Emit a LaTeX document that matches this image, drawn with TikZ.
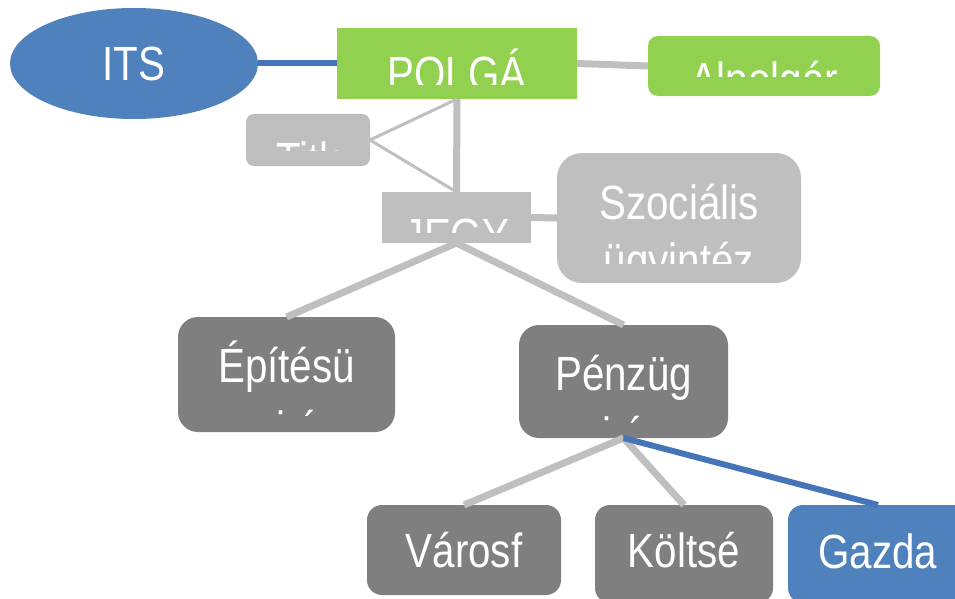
\documentclass[tikz,border=0pt]{standalone}
\usepackage{fontspec}
\setmainfont{Liberation Sans}[FakeStretch=0.84]
\usetikzlibrary{shapes.geometric}
\definecolor{itsblue}{HTML}{4F81BD}
\definecolor{lineblue}{HTML}{4674B9}
\definecolor{leafgreen}{HTML}{92D050}
\definecolor{lightbox}{HTML}{BFBFBF}
\definecolor{darkbox}{HTML}{7F7F7F}
\tikzset{
  box/.style 2 args={minimum width=#1pt, minimum height=#2pt, inner sep=0pt, outer sep=0pt},
  txt/.style={text=white, anchor=base, inner sep=0pt, font=\fontsize{48}{58}\selectfont},
  link/.style={draw=lightbox, line width=7pt},
  thinlink/.style={draw=lightbox, line width=3pt},
  bluelink/.style={draw=lineblue, line width=6pt}
}
\begin{document}
\begin{tikzpicture}[x=1pt,y=-1pt]
\useasboundingbox (0,0) rectangle (955,599);
% boxes
\node[ellipse, fill=itsblue, box={248}{111}, txt, anchor=center] (its) at (134,63.5) {ITS};
\node[fill=leafgreen, box={240}{71}] (polga) at (457,63.5) {};
\node[fill=leafgreen, box={232}{60}, rounded corners=10pt] (alpol) at (764,66) {};
\node[fill=lightbox, box={124}{52}, rounded corners=8pt] (titk) at (308,140) {};
\node[fill=lightbox, box={149}{51}] (jegy) at (456.5,217.5) {};
\node[fill=lightbox, box={244}{130}, rounded corners=25pt] (szoc) at (679,218) {};
\node[fill=darkbox, box={217}{115}, rounded corners=20pt] (epit) at (286.5,374.5) {};
\node[fill=darkbox, box={209}{113}, rounded corners=20pt] (penz) at (623.5,381.5) {};
\node[fill=darkbox, box={194}{90}, rounded corners=15pt] (varos) at (464,550) {};
\node[fill=darkbox, box={178}{98}, rounded corners=15pt] (kolt) at (684,554) {};
\node[fill=itsblue, box={180}{98}, rounded corners=15pt] (gazda) at (878,554) {};
% connectors
\draw[bluelink] (its.east) -- (polga.west);
\draw[link] (polga.east) -- (alpol.west);
\draw[link] (polga.south) -- (jegy.north);
\draw[thinlink] (polga.south) -- (titk.east) -- (jegy.north);
\draw[link] (jegy.east) -- (szoc.west);
\draw[link] (jegy.south) -- (epit.north);
\draw[link] (jegy.south) -- (penz.north);
\draw[link] (penz.south) -- (varos.north);
\draw[link] (penz.south) -- (kolt.north);
\draw[bluelink] (penz.south) -- (gazda.north);
% texts, cut off at the foot of their boxes
\begin{scope} % start of clip scope
\clip (polga.north west) rectangle ([yshift=14pt]polga.south east);
\node[txt] (polgatxt) at (457,91) {POLGÁ};
\end{scope} % end of clip scope
\begin{scope}
\clip (alpol.north west) rectangle ([yshift=19pt]alpol.south east);
\node[txt] (alpoltxt) at (764,97) {Alpolgár};
\end{scope}
\begin{scope}
\clip (titk.north west) rectangle ([yshift=16pt]titk.south east);
\node[txt] (titktxt) at (308,176) {Titk};
\end{scope}
\begin{scope}
\clip (jegy.north west) rectangle ([yshift=11pt]jegy.south east);
\node[txt] (jegytxt) at (456.5,252) {JEGY};
\end{scope}
\begin{scope}
\clip (szoc.north west) rectangle ([yshift=20pt]szoc.south east);
\node[txt] (szoctxt) at (679,219) {Szociális};
\node[txt] (szoctxt2) at (679,277) {ügyintéz};
\end{scope}
\begin{scope}
\clip (epit.north west) rectangle ([yshift=17pt]epit.south east);
\node[txt] (epittxt) at (286.5,382) {Építésü};
\node[txt] (epittxt2) at (286.5,445) {gyi és};
\end{scope}
\begin{scope}
\clip (penz.north west) rectangle ([yshift=15pt]penz.south east);
\node[txt] (penztxt) at (623.5,390) {Pénzüg};
\node[txt] (penztxt2) at (623.5,451) {yi és};
\end{scope}
\node[txt] (varostxt) at (464,567) {Városf};
\node[txt] (kolttxt) at (684,567) {Költsé};
\node[txt] (gazdatxt) at (878,568) {Gazda};
\end{tikzpicture}
\end{document}
